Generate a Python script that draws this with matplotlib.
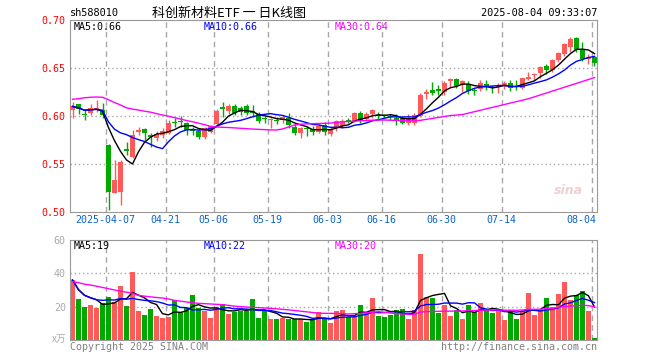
import numpy as np
import pandas as pd
import matplotlib
matplotlib.use('Agg')
import matplotlib.pyplot as plt
from matplotlib.transforms import blended_transform_factory

# daily K data for 588010, 2025-03-27 .. 2025-08-04
opens = [0.606, 0.612, 0.602, 0.6035, 0.6063, 0.606, 0.570, 0.520, 0.521, 0.566,
         0.557, 0.583, 0.5865, 0.580, 0.577, 0.580, 0.5826, 0.594, 0.595, 0.593,
         0.586, 0.5847, 0.578, 0.5837, 0.5914, 0.609, 0.6055, 0.6104, 0.608, 0.6104,
         0.605, 0.602, 0.5975, 0.5955, 0.5955, 0.5958, 0.5976, 0.589, 0.582, 0.587,
         0.586, 0.5837, 0.5906, 0.5812, 0.589, 0.590, 0.5955, 0.595, 0.6035, 0.5966,
         0.602, 0.601, 0.6005, 0.600, 0.598, 0.598, 0.5924, 0.5924, 0.600, 0.623,
         0.627, 0.628, 0.6253, 0.636, 0.6385, 0.632, 0.633, 0.627, 0.628, 0.633,
         0.630, 0.630, 0.6313, 0.6347, 0.631, 0.6288, 0.6385, 0.643, 0.6445, 0.652,
         0.6474, 0.658, 0.6646, 0.6722, 0.681, 0.6695, 0.659, 0.6612]
highs = [0.615, 0.613, 0.606, 0.613, 0.6167, 0.614, 0.571, 0.554, 0.5545, 0.573,
         0.585, 0.589, 0.588, 0.582, 0.584, 0.587, 0.596, 0.598, 0.600, 0.594,
         0.589, 0.586, 0.589, 0.591, 0.607, 0.615, 0.613, 0.612, 0.610, 0.613,
         0.611, 0.604, 0.600, 0.598, 0.599, 0.601, 0.603, 0.593, 0.589, 0.590,
         0.590, 0.592, 0.594, 0.589, 0.596, 0.597, 0.598, 0.6045, 0.6055, 0.604,
         0.607, 0.604, 0.602, 0.602, 0.602, 0.600, 0.602, 0.603, 0.624, 0.628,
         0.6354, 0.632, 0.636, 0.640, 0.640, 0.638, 0.636, 0.629, 0.637, 0.637,
         0.632, 0.634, 0.636, 0.638, 0.637, 0.640, 0.6455, 0.6445, 0.652, 0.654,
         0.659, 0.667, 0.676, 0.6826, 0.682, 0.677, 0.665, 0.662]
lows = [0.598, 0.602, 0.596, 0.601, 0.6045, 0.5976, 0.502, 0.5195, 0.507, 0.559,
        0.556, 0.580, 0.575, 0.568, 0.574, 0.577, 0.581, 0.589, 0.589, 0.580,
        0.580, 0.5757, 0.576, 0.582, 0.589, 0.599, 0.602, 0.601, 0.601, 0.601,
        0.599, 0.593, 0.593, 0.587, 0.5915, 0.593, 0.588, 0.580, 0.5775, 0.579,
        0.580, 0.582, 0.580, 0.579, 0.584, 0.588, 0.593, 0.594, 0.593, 0.595,
        0.598, 0.596, 0.598, 0.596, 0.591, 0.592, 0.591, 0.591, 0.599, 0.618,
        0.6218, 0.6218, 0.6218, 0.630, 0.629, 0.625, 0.623, 0.622, 0.626, 0.627,
        0.624, 0.624, 0.628, 0.626, 0.627, 0.628, 0.638, 0.638, 0.640, 0.644,
        0.646, 0.656, 0.662, 0.6667, 0.667, 0.657, 0.654, 0.652]
closes = [0.610, 0.607, 0.601, 0.608, 0.6087, 0.601, 0.521, 0.533, 0.552, 0.564,
          0.580, 0.585, 0.582, 0.578, 0.581, 0.584, 0.593, 0.593, 0.594, 0.5854,
          0.584, 0.5785, 0.5872, 0.5896, 0.6055, 0.607, 0.6104, 0.603, 0.604, 0.603,
          0.603, 0.595, 0.5966, 0.597, 0.595, 0.5993, 0.5906, 0.582, 0.587, 0.586,
          0.5837, 0.5896, 0.5837, 0.5854, 0.595, 0.595, 0.595, 0.6035, 0.595, 0.602,
          0.606, 0.600, 0.600, 0.599, 0.596, 0.5924, 0.5976, 0.601, 0.622, 0.6245,
          0.6243, 0.626, 0.634, 0.6385, 0.6313, 0.636, 0.6264, 0.626, 0.6347, 0.630,
          0.629, 0.632, 0.634, 0.6288, 0.630, 0.6393, 0.641, 0.644, 0.6507, 0.6474,
          0.658, 0.6653, 0.6747, 0.680, 0.669, 0.659, 0.6612, 0.6555]
volumes = [36, 24.4, 20, 21, 19.4, 22, 26, 23, 32.4, 20.4,
           41, 17.6, 15, 18.6, 14.4, 13.4, 14, 24, 17, 19,
           27, 19, 17.4, 13.4, 19.6, 21.6, 15.6, 17, 17.4, 17.4,
           24.6, 13.4, 17.6, 12.4, 12.4, 13.4, 12.4, 12.4, 12.4, 11,
           12.4, 17, 13, 10.4, 17.6, 18, 13.6, 13.6, 21, 17,
           25.2, 14.4, 13.6, 15, 18, 18.6, 12.6, 18, 51.6, 26,
           25.2, 16, 21, 14.4, 18, 12.4, 21, 17, 22.4, 18,
           16.4, 18.4, 12, 17.4, 12.4, 17.4, 28.4, 15, 18, 25.2,
           20, 27.6, 34.8, 24, 27, 29.4, 17.4, 1]
# 30-day averages as drawn (window reaches before the first bar)
ma30_price = [0.6174, 0.618, 0.619, 0.6195, 0.6198, 0.6195, 0.617, 0.614, 0.6115, 0.6085,
              0.6072, 0.6062, 0.605, 0.604, 0.6025, 0.601, 0.5998, 0.5983, 0.5968, 0.5953,
              0.594, 0.5925, 0.591, 0.5892, 0.5886, 0.5882, 0.588, 0.5876, 0.5872, 0.5868,
              0.5864, 0.5861, 0.5858, 0.5855, 0.5854, 0.5865, 0.5885, 0.5905, 0.5915, 0.5918,
              0.592, 0.5922, 0.5924, 0.5926, 0.5932, 0.594, 0.5943, 0.5946, 0.595, 0.5953,
              0.5956, 0.5958, 0.5958, 0.5956, 0.5954, 0.5952, 0.595, 0.595, 0.5955, 0.5965,
              0.5975, 0.5985, 0.5995, 0.6005, 0.601, 0.6015, 0.603, 0.6045, 0.606, 0.6075,
              0.609, 0.6105, 0.612, 0.6135, 0.615, 0.6165, 0.618, 0.620, 0.622, 0.624,
              0.626, 0.628, 0.630, 0.632, 0.634, 0.636, 0.638, 0.640]
ma30_vol = [35, 34.4, 33.5, 33, 32.3, 31.5, 30.8, 30, 29.3, 28.7,
            28, 26.8, 26.3, 25.9, 25.5, 25.2, 24.6, 23.8, 23.3, 22.8,
            22.4, 22, 21.8, 21.6, 21.4, 21.2, 20.8, 20.3, 20, 19.8,
            19.6, 19.4, 19.2, 19, 18.7, 18.4, 18.1, 17.7, 17.3, 16.9,
            16.5, 16.1, 16, 16, 15.9, 15.8, 15.6, 15.8, 16, 16.3,
            16.6, 17, 16.6, 16.2, 15.8, 15.6, 15.4, 15.4, 16.8, 17,
            17.2, 17.2, 17.3, 17.3, 17.4, 17.4, 17.6, 17.7, 17.9, 18,
            18, 18, 17.9, 17.9, 17.8, 18, 18.4, 18.4, 18.4, 18.8,
            19, 19.5, 20.2, 20.4, 20.6, 20.9, 20.6, 20]

tick_idx = [6, 16, 24, 33, 43, 52, 62, 72, 87]
tick_labels = ['2025-04-07', '04-21', '05-06', '05-19', '06-03', '06-16', '06-30', '07-14', '08-04']
price_ticks = [0.50, 0.55, 0.60, 0.65, 0.70]
vol_ticks = [20, 40, 60]

df = pd.DataFrame({'open': opens, 'high': highs, 'low': lows, 'close': closes, 'vol': volumes})
df['ma5'] = df['close'].rolling(5, min_periods=1).mean()
df['ma10'] = df['close'].rolling(10, min_periods=1).mean()
df['vma5'] = df['vol'].rolling(5, min_periods=1).mean()
df['vma10'] = df['vol'].rolling(10, min_periods=1).mean()

RED = '#ff5a5a'
GREEN = '#00a800'
GRID = '#a8a8a8'
mono = 'DejaVu Sans Mono'

W, H = 660, 360
fig = plt.figure(figsize=(6.6, 3.6), dpi=100)
ax = fig.add_axes([70 / W, 1 - 212 / H, 527 / W, 192 / H])
axv = fig.add_axes([70 / W, 1 - 340 / H, 527 / W, 100 / H])

x = np.arange(len(df))
up = df['close'] >= df['open']
colors = np.where(up, RED, GREEN)
body_lo = np.minimum(df['open'], df['close'])
body_h = np.maximum((df['close'] - df['open']).abs(), 0.0012)

for a in (ax, axv):
    a.set_xlim(-0.4167, len(df) - 0.5833)
    for i in tick_idx:
        a.axvline(i - 0.42, color=GRID, lw=1, ls=(0, (4, 3)), zorder=0)
    for s in a.spines.values():
        s.set_color('#999999')
    a.set_xticks([])

for p in price_ticks[1:-1]:
    ax.axhline(p, color=GRID, lw=1, ls=(0, (1, 2)), zorder=0)
for v in vol_ticks[:-1]:
    axv.axhline(v, color=GRID, lw=1, ls=(0, (1, 2)), zorder=0)

ax.vlines(x, df['low'], df['high'], colors=colors, lw=1, zorder=2)
ax.bar(x, body_h, bottom=body_lo, width=0.83, color=colors, lw=0, zorder=3)
ax.plot(x, df['ma5'], color='black', lw=1, zorder=4)
ax.plot(x, df['ma10'], color='#0000ff', lw=1, zorder=4)
ax.plot(x, ma30_price, color='#ff00ff', lw=1, zorder=4)
ax.set_ylim(0.50, 0.70)
ax.set_yticks(price_ticks)
ax.set_yticklabels(['%.2f' % p for p in price_ticks], family=mono, fontsize=7.2, color='red')
ax.tick_params(axis='y', length=0, pad=3)

axv.bar(x, df['vol'], width=0.83, color=colors, lw=0, zorder=2)
axv.plot(x, df['vma5'], color='black', lw=1, zorder=4)
axv.plot(x, df['vma10'], color='#0000ff', lw=1, zorder=4)
axv.plot(x, ma30_vol, color='#ff00ff', lw=1, zorder=4)
axv.set_ylim(0, 60)
axv.set_yticks(vol_ticks)
axv.set_yticklabels([str(v) for v in vol_ticks], family=mono, fontsize=7.2, color='#aaaaaa')
axv.tick_params(axis='y', length=0, pad=3)

# date labels under the price panel
tr = blended_transform_factory(ax.transData, fig.transFigure)
for i, lab in zip(tick_idx, tick_labels):
    if i == tick_idx[-1]:
        ax.text(i + 0.3, 1 - 220 / H, lab, transform=tr, ha='right', va='center',
                family=mono, fontsize=7.2, color='#0a64c8')
    else:
        ax.text(i - 0.6, 1 - 220 / H, lab, transform=tr, ha='center', va='center',
                family=mono, fontsize=7.2, color='#0a64c8')


def ftext(px, py, s, **kw):
    fig.text(px / W, 1 - py / H, s, va='center', **kw)


ftext(70, 13, 'sh588010', family=mono, fontsize=7.4, color='black')
ftext(229, 13, '科创新材料ETF 一 日K线图', family=['Noto Sans CJK SC', 'DejaVu Sans'],
      fontsize=9.4, color='black', ha='center')
ftext(597, 13, '2025-08-04 09:33:07', family=mono, fontsize=7.4, color='black', ha='right')

ftext(74, 27, 'MA5:0.66', family=mono, fontsize=7.2, color='black')
ftext(204, 27, 'MA10:0.66', family=mono, fontsize=7.2, color='#0000ff')
ftext(335, 27, 'MA30:0.64', family=mono, fontsize=7.2, color='#ff00ff')
ftext(74, 246, 'MA5:19', family=mono, fontsize=7.2, color='black')
ftext(204, 246, 'MA10:22', family=mono, fontsize=7.2, color='#0000ff')
ftext(335, 246, 'MA30:20', family=mono, fontsize=7.2, color='#ff00ff')

ftext(66, 339, 'x万', family=['Noto Sans CJK SC', 'DejaVu Sans'], fontsize=7,
      color='#aaaaaa', ha='right')
ftext(70, 347, 'Copyright 2025 SINA.COM', family=mono, fontsize=7.2, color='#808080')
ftext(597, 347, 'http://finance.sina.com.cn', family=mono, fontsize=7.2, color='#808080', ha='right')
ftext(568, 190, 'sina', fontsize=9, color='#f0d0d0', style='italic', weight='bold', ha='center')

fig.savefig('out.png', dpi=100)
